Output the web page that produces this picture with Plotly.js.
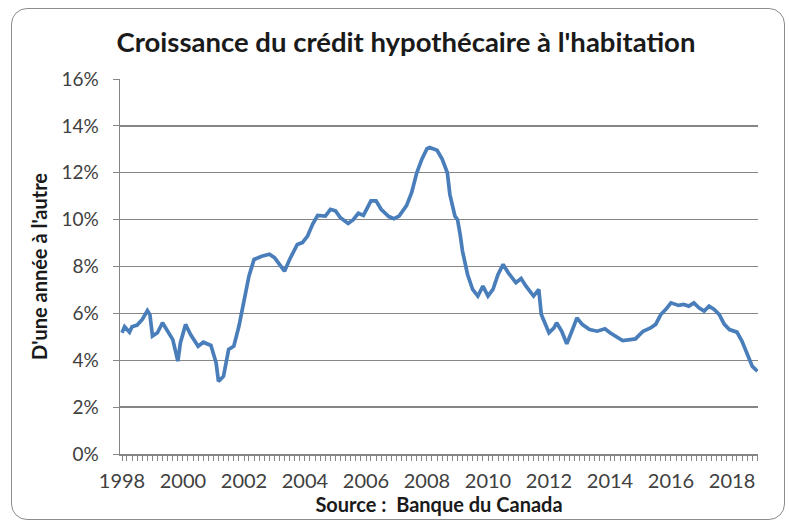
<!DOCTYPE html>
<html>
<head>
<meta charset="utf-8">
<script src="https://cdn.plot.ly/plotly-3.0.1.min.js"></script>
<style>
  html, body { margin: 0; padding: 0; background: #ffffff; }
  #wrap { position: relative; width: 789px; height: 525px; }
  #chart { width: 789px; height: 525px; }
  #frame { position: absolute; left: 11px; top: 8px; width: 774px; height: 512px;
           border: 1.5px solid #8c8c8c; border-radius: 16px; pointer-events: none; box-sizing: border-box; }
</style>
</head>
<body>
<div id="wrap">
  <div id="chart"></div>
  <div id="frame"></div>
</div>
<script>
// Month of observation (YYYY-MM) and year-over-year growth (%)
var months = [
  "1998-01","1998-02","1998-04","1998-05","1998-07","1998-09","1998-11","1998-12",
  "1999-01","1999-03","1999-05","1999-07","1999-09","1999-11","1999-12",
  "2000-02","2000-04","2000-07","2000-09","2000-12",
  "2001-02","2001-03","2001-05","2001-07","2001-09","2001-11",
  "2002-01","2002-03","2002-05","2002-08","2002-11",
  "2003-01","2003-02","2003-05","2003-07","2003-10","2003-12",
  "2004-02","2004-04","2004-06","2004-09","2004-11",
  "2005-01","2005-03","2005-06","2005-08","2005-10","2005-12",
  "2006-03","2006-05","2006-07","2006-10","2006-12",
  "2007-02","2007-05","2007-07","2007-09","2007-11",
  "2008-01","2008-02","2008-05","2008-07","2008-09","2008-10","2008-12",
  "2009-01","2009-02","2009-03","2009-05","2009-07","2009-09","2009-11",
  "2010-01","2010-03","2010-05","2010-07","2010-09","2010-12",
  "2011-02","2011-04","2011-07","2011-09","2011-10","2011-11",
  "2012-01","2012-03","2012-04","2012-06","2012-08","2012-10","2012-12",
  "2013-02","2013-05","2013-08","2013-11",
  "2014-01","2014-04","2014-06","2014-09","2014-11",
  "2015-02","2015-05","2015-07","2015-09","2015-11",
  "2016-01","2016-04","2016-06","2016-08","2016-10","2016-12",
  "2017-02","2017-04","2017-06","2017-08","2017-10","2017-12",
  "2018-03","2018-05","2018-07","2018-09","2018-11"
];
var growth = [
  5.17,5.43,5.20,5.43,5.50,5.74,6.12,5.95,
  5.03,5.17,5.60,5.24,4.88,3.96,4.74,
  5.53,5.10,4.60,4.77,4.63,
  3.89,3.10,3.32,4.46,4.60,5.45,
  6.60,7.59,8.30,8.44,8.52,
  8.38,8.23,7.80,8.30,8.94,9.02,
  9.30,9.80,10.18,10.15,10.44,
  10.37,10.08,9.84,10.00,10.27,10.18,
  10.80,10.80,10.44,10.13,10.04,
  10.15,10.60,11.15,12.00,12.58,
  13.03,13.08,12.96,12.58,12.00,11.08,10.15,
  10.00,9.37,8.66,7.66,7.02,6.74,7.16,
  6.74,7.02,7.66,8.09,7.73,7.31,
  7.49,7.16,6.74,7.02,5.95,5.67,
  5.17,5.38,5.60,5.24,4.70,5.24,5.81,
  5.53,5.31,5.24,5.34,
  5.17,4.96,4.84,4.88,4.91,
  5.24,5.38,5.53,5.95,6.17,
  6.45,6.34,6.38,6.31,6.45,6.24,
  6.10,6.31,6.17,5.95,5.53,5.31,
  5.20,4.81,4.32,3.74,3.53
];
var yTicks = [0, 2, 4, 6, 8, 10, 12, 14, 16];
var yTickLabels = ["0%","2%","4%","6%","8%","10%","12%","14%","16%"];

var chartTitle = "Croissance du crédit hypothécaire à l'habitation";
var yTitle = "D'une année à l'autre";
var xTitle = "Source :  Banque du Canada";

var fontFam = "Lato, 'Open Sans', sans-serif";

var trace = {
  x: months.map(function (m) { return m + "-01"; }),
  y: growth,
  type: "scatter",
  mode: "lines",
  line: { color: "#4a7ebb", width: 3.7 },
  hoverinfo: "x+y"
};

var layout = {
  width: 789,
  height: 525,
  margin: { l: 120, r: 31, t: 79, b: 71 },
  paper_bgcolor: "#ffffff",
  plot_bgcolor: "#ffffff",
  showlegend: false,
  font: { family: fontFam, color: "#404040" },
  title: {
    text: chartTitle,
    font: { family: fontFam, size: 27.5, color: "#1a1a1a", weight: "bold" },
    x: 406 / 789, xref: "container", xanchor: "center",
    y: 1 - 42 / 525, yref: "container", yanchor: "middle"
  },
  xaxis: {
    type: "date",
    range: ["1997-12-08", "2018-11-08"],
    dtick: "M24",
    tick0: "1998-01-01",
    tickformat: "%Y",
    ticks: "outside",
    ticklen: 5,
    tickcolor: "#868686",
    tickfont: { family: fontFam, size: 20, color: "#404040" },
    ticklabelstandoff: 3,
    minor: { dtick: "M2", ticks: "outside", ticklen: 5, tickcolor: "#868686", showgrid: false },
    showline: true,
    linecolor: "#868686",
    linewidth: 1.5,
    showgrid: false,
    zeroline: false,
    title: {
      text: xTitle,
      font: { family: fontFam, size: 20, color: "#1a1a1a", weight: "bold" },
      standoff: 6
    }
  },
  yaxis: {
    range: [0, 16],
    tickvals: yTicks,
    ticktext: yTickLabels,
    ticks: "outside",
    ticklen: 6,
    tickcolor: "#868686",
    tickfont: { family: fontFam, size: 19, color: "#404040" },
    ticklabelstandoff: 10,
    showline: true,
    linecolor: "#868686",
    linewidth: 1.5,
    showgrid: true,
    gridcolor: "#868686",
    gridwidth: 1.3,
    zeroline: false,
    title: {
      text: yTitle,
      font: { family: fontFam, size: 20, color: "#1a1a1a", weight: "bold" },
      standoff: 8
    }
  }
};

Plotly.newPlot("chart", [trace], layout, { displayModeBar: false, staticPlot: true });
</script>
</body>
</html>
